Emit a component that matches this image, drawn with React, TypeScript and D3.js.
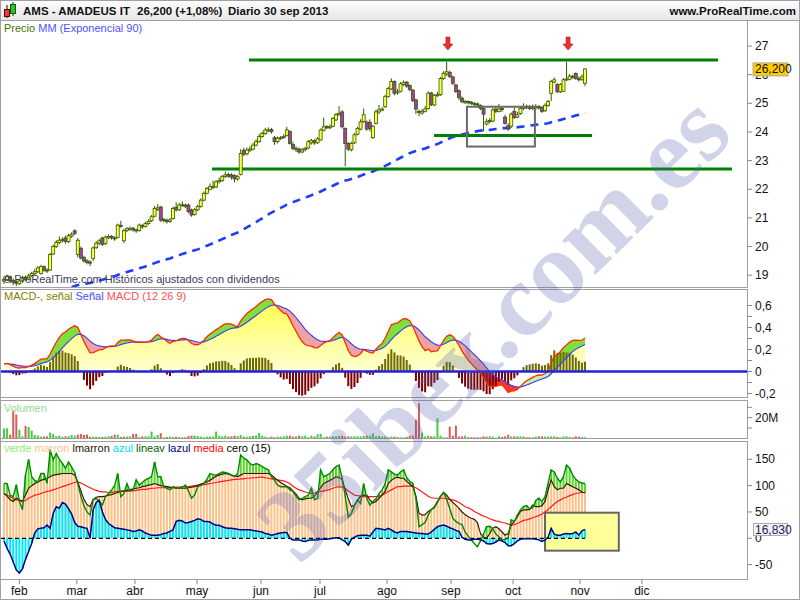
import React from "react";
import * as d3 from "d3";

// ---------- DATA ----------
const opens = [
18.80,18.85,18.95,18.82,18.76,18.70,18.80,18.93,18.86,18.98,
19.05,19.12,19.06,19.30,19.18,19.18,19.74,20.00,20.14,20.22,
20.30,20.18,20.36,20.55,19.72,19.94,19.62,19.50,19.46,19.58,
19.96,20.12,20.30,20.10,20.30,20.36,20.30,20.32,20.74,20.20,
20.56,20.60,20.64,20.58,20.56,20.74,20.70,20.80,20.90,21.06,
21.30,21.38,20.94,20.92,20.88,20.98,21.36,21.28,21.44,21.45,
21.45,21.28,21.12,21.28,21.40,21.62,21.86,22.00,22.06,22.08,
22.26,22.30,22.44,22.52,22.50,22.48,22.36,22.52,23.36,23.24,
23.36,23.40,23.54,23.66,23.84,23.94,24.04,24.08,23.80,23.66,
23.78,23.80,23.88,24.02,23.56,23.42,23.40,23.30,23.38,23.44,
23.62,23.70,23.62,23.72,24.06,24.18,24.16,24.20,24.42,24.60,
24.70,24.12,23.60,23.38,23.62,23.92,24.10,24.36,24.34,24.34,
23.80,24.30,24.70,24.76,24.88,25.24,25.50,25.76,25.36,25.42,
25.66,25.74,25.62,25.46,25.12,24.72,24.66,24.72,24.82,25.36,
24.94,25.28,25.30,25.86,26.02,26.08,25.92,25.64,25.44,25.18,
25.02,25.06,25.04,25.00,24.98,24.92,24.82,24.28,24.36,24.38,
24.80,24.72,24.82,24.52,24.22,24.20,24.72,24.52,24.64,24.82,
24.88,24.86,24.82,24.84,24.88,24.86,24.74,24.92,25.35,25.74,
25.66,25.40,25.42,25.82,25.84,25.94,26.04,25.86,25.84,25.70];
const closes = [
18.85,18.95,18.80,18.75,18.72,18.80,18.92,18.85,18.98,19.06,
19.12,19.25,19.30,19.18,19.15,19.72,20.00,20.15,20.22,20.25,
20.18,20.38,20.42,20.46,20.22,19.60,19.50,19.45,19.42,19.95,
20.12,20.20,20.08,20.33,20.35,20.30,20.28,20.75,20.72,20.55,
20.62,20.64,20.58,20.55,20.75,20.69,20.80,20.88,21.04,21.33,
21.35,20.92,20.93,20.87,20.93,21.33,21.28,21.45,21.46,21.40,
21.22,21.10,21.28,21.40,21.62,21.86,22.03,22.09,22.10,22.26,
22.30,22.44,22.50,22.46,22.42,22.36,22.44,23.25,23.22,23.37,
23.40,23.54,23.66,23.84,23.95,24.07,24.07,24.01,23.66,23.78,
23.80,23.84,24.07,23.60,23.43,23.43,23.30,23.37,23.43,23.66,
23.70,23.62,23.76,24.07,24.18,24.16,24.18,24.47,24.60,24.65,
24.18,23.60,23.40,23.60,23.90,24.12,24.35,24.60,24.10,24.12,
24.20,24.70,24.77,24.80,25.23,25.52,25.76,25.35,25.40,25.68,
25.72,25.60,25.48,25.10,24.80,24.68,24.72,24.80,25.35,24.95,
25.28,25.30,25.87,26.05,26.10,25.93,25.70,25.41,25.20,25.06,
25.06,25.02,25.00,24.96,24.94,24.82,24.62,24.36,24.40,24.77,
24.72,24.80,24.78,24.30,24.12,24.62,24.50,24.60,24.82,24.88,
24.86,24.82,24.86,24.88,24.84,24.72,24.92,25.06,25.76,25.82,
25.40,25.66,25.82,25.85,25.95,25.92,25.86,25.82,25.92,26.20];
const highs = [
18.95,19.02,18.98,18.88,18.82,18.86,18.98,18.98,19.05,19.12,
19.22,19.32,19.36,19.34,19.24,19.78,20.06,20.22,20.35,20.32,
20.38,20.44,20.50,20.60,20.30,20.00,19.68,19.56,19.52,20.00,
20.18,20.26,20.34,20.38,20.42,20.40,20.36,20.80,20.90,20.62,
20.68,20.70,20.68,20.62,20.80,20.78,20.86,20.95,21.10,21.42,
21.48,21.42,21.00,20.98,21.00,21.40,21.55,21.52,21.58,21.50,
21.50,21.32,21.34,21.46,21.68,21.92,22.08,22.20,22.30,22.32,
22.40,22.50,22.62,22.58,22.56,22.52,22.50,23.40,23.45,23.46,
23.50,23.62,23.74,23.92,24.02,24.15,24.16,24.14,23.86,23.84,
23.86,23.92,24.18,24.06,23.66,23.50,23.46,23.44,23.48,23.72,
23.76,23.74,23.82,24.12,24.50,24.24,24.26,24.52,24.66,24.90,
24.76,24.16,23.64,23.66,23.96,24.18,24.44,24.82,24.40,24.44,
24.24,24.78,24.94,24.86,25.30,25.58,25.87,25.80,25.50,25.74,
25.80,25.78,25.66,25.50,25.16,24.78,24.80,24.90,25.42,25.40,
25.32,25.40,25.92,26.12,26.45,26.14,25.96,25.68,25.48,25.24,
25.12,25.10,25.08,25.04,25.02,24.96,24.86,24.46,24.48,24.84,
24.86,24.98,24.90,24.60,24.30,24.68,24.86,24.70,24.88,25.00,
24.96,24.94,24.96,24.98,24.94,24.90,25.00,25.12,25.82,25.90,
25.70,25.70,25.88,26.45,26.02,26.00,26.08,25.94,26.00,26.22];
const lows = [
18.70,18.80,18.72,18.65,18.62,18.66,18.76,18.80,18.82,18.94,
19.00,19.08,19.02,19.12,19.08,19.15,19.70,19.95,20.08,20.15,
20.10,20.12,20.30,20.40,19.62,19.55,19.44,19.38,19.32,19.50,
19.92,20.05,20.02,20.06,20.26,20.24,20.20,20.28,20.66,20.12,
20.50,20.55,20.52,20.48,20.52,20.62,20.66,20.76,20.86,21.02,
21.24,20.86,20.84,20.80,20.82,20.94,21.22,21.24,21.38,21.34,
21.16,21.04,21.08,21.24,21.36,21.58,21.82,21.96,22.00,22.04,
22.20,22.26,22.40,22.40,22.34,22.24,22.30,22.48,23.15,23.18,
23.30,23.36,23.50,23.62,23.80,23.90,24.00,23.94,23.55,23.60,
23.72,23.76,23.84,23.56,23.36,23.30,23.24,23.26,23.32,23.40,
23.56,23.55,23.58,23.70,24.02,24.10,24.10,24.16,24.38,24.56,
24.12,22.80,23.34,23.32,23.58,23.88,24.06,24.32,24.04,24.02,
23.76,24.26,24.62,24.72,24.84,25.20,25.46,25.28,25.30,25.38,
25.60,25.54,25.42,25.04,24.62,24.55,24.60,24.68,24.78,24.90,
24.90,25.22,25.26,25.82,25.96,25.88,25.64,25.36,25.12,25.00,
24.98,24.96,24.94,24.90,24.86,24.76,24.02,24.22,24.30,24.34,
24.66,24.68,24.70,24.26,24.04,24.14,24.46,24.48,24.60,24.76,
24.80,24.76,24.76,24.78,24.78,24.66,24.70,24.88,25.08,25.70,
25.36,25.36,25.40,25.78,25.80,25.86,25.82,25.76,25.78,25.60];
// volume in millions
const volumes = [
9.5,9.7,3.5,27,23,8.4,2,12,11,7.4,
3.2,2.6,1.6,1.6,1.9,5.5,4,2,2.6,1.6,
1.9,1.9,3.2,2.6,3.5,4.2,3.2,3.5,1.6,1.6,
1.6,1.3,1.3,1.6,1.9,2.2,3.5,3.5,1.3,1.6,
1.6,1.9,4.2,4.2,1.3,1.9,1.9,1.9,6.5,1.9,
3.2,5,1,1.3,1.6,1.3,1.6,1.3,1,1,
2.3,2.6,2.6,2.3,1.6,1,1.6,1.6,1.6,6.5,
2.6,1.9,2.6,1.6,1.9,2.6,2.3,3.2,1.6,1.6,
1.9,2.3,2.6,5.2,2.6,1.6,1,1.6,1,1.6,
1.6,1.9,2.6,2.6,1.6,1.9,2.6,1.9,2.6,1,
2.6,1.6,3.9,4.2,1,1.6,1.6,1.9,1.9,2.3,
2.6,1.6,1.9,1.9,1.9,1.9,1.9,2.6,2.6,2.6,
4.8,1.9,2.3,1.6,1.9,1,1.6,1.6,1.3,1,
1,1.3,2.6,2.6,18,34,5.5,1.9,2.6,1.9,
1.9,19.4,2.6,1,1,11.3,2.6,12.3,1.6,1.9,
2.6,1,1,1,1,1,1.9,1.6,1.9,1.6,
0.5,1.9,1.3,1.9,3.5,1.9,1.9,1.9,1.9,1.9,
1,1,1,1.6,1.9,1.9,1.6,1.6,1.9,1.9,
1.3,1,1.9,1.9,1.3,1,1.9,1.6,1.3,1];
const verde = [
104,104,82,79,102,70,54,120,150,117,
110,107,123,123,104,168,149,161,150,142,
133,145,135,125,104,80,62,50,44,73,
76,70,63,79,85,92,100,123,79,85,
104,90,92,111,101,106,111,114,117,145,
117,117,98,95,92,98,96,95,97,101,
90,76,82,98,100,104,112,123,121,120,
123,126,125,123,120,117,123,158,152,149,
142,139,142,140,136,133,130,117,110,101,
98,98,98,92,89,79,73,76,79,82,
95,73,76,130,117,120,123,130,136,139,
114,80,40,47,62,73,66,104,76,63,
70,75,85,92,104,130,126,122,120,126,
130,115,108,104,76,22,26,30,44,55,
58,68,80,87,74,56,38,32,28,26,
12,4,-3,-10,-16,-5,8,22,23,18,
8,3,-3,-2,0,35,32,44,54,60,
62,56,58,72,76,70,79,104,130,126,
114,107,117,139,133,120,112,107,105,104];
const lmarron = [
85,80,73,70,76,73,70,82,95,100,
104,107,110,112,114,117,120,121,122,123,
123,123,123,120,107,90,74,64,60,74,
78,79,79,80,82,83,85,87,89,90,
91,92,94,95,96,98,99,101,102,104,
102,100,99,98,97,96,95,95,95,95,
96,97,98,100,103,105,107,110,114,118,
120,122,123,122,120,118,117,120,123,123,
123,123,123,123,123,123,123,120,115,110,
106,102,99,96,90,84,76,73,75,76,
76,80,88,96,104,107,110,113,117,115,
112,92,75,60,63,72,80,82,82,73,
67,70,76,82,89,104,110,114,116,114,
114,108,103,98,80,48,44,45,51,54,
60,70,79,87,82,74,68,63,57,50,
45,41,38,36,30,9,2,0,9,19,
22,18,12,6,9,25,32,41,51,54,
54,55,63,60,60,62,70,92,111,98,
92,95,95,104,101,98,95,92,88,86];
const lazul = [
-5,-19,-30,-45,-60,-66,-58,-40,-25,-10,
10,18,19,20,25,19,47,60,57,68,
65,56,46,30,23,22,20,19,0,54,
68,72,50,36,28,24,20,19,18,17,
16,15,13,14,16,14,10,8,6,6,
6,7,9,10,13,16,32,34,33,29,
30,32,34,37,36,32,32,31,27,25,
25,22,20,19,19,18,17,16,16,16,
16,15,14,13,12,9,8,6,7,9,
10,11,11,0,-3,-3,-3,-5,-6,-4,
-3,-3,-3,-2,-2,-2,-1,0,1,1,
-3,-6,-13,-2,2,5,6,6,6,4,
12,19,18,17,16,19,16,12,10,13,
13,13,12,11,10,9,9,8,8,12,
17,22,24,25,23,20,18,15,13,2,
-2,-3,-3,-2,-2,-3,-5,-10,-11,-10,
-7,-3,-5,-8,-14,-14,-10,-5,-2,-1,
-1,-1,-1,-2,-3,-6,-3,2,19,8,
6,6,8,9,8,9,12,6,14,16.83];
const media = [
85,82,79,76,73,72,70,72,76,79,
82,83,85,87,89,90,92,94,96,98,
100,102,104,106,107,105,102,99,96,93,
91,89,88,88,87,87,88,89,89,89,
89,90,90,91,92,93,93,94,95,95,
96,96,96,96,96,96,97,97,98,98,
98,99,100,101,102,102,103,104,105,106,
107,108,109,110,111,112,112,113,113,114,
114,115,115,116,116,115,114,113,112,111,
110,109,107,104,99,95,92,90,88,86,
85,86,88,89,90,91,93,95,97,98,
97,95,90,86,82,81,80,79,79,79,
79,79,80,82,85,89,92,95,98,98,
99,99,99,98,96,92,88,84,80,77,
76,76,76,76,75,74,73,71,68,64,
60,58,55,51,48,45,42,40,37,35,
33,32,30,29,27,25,26,28,31,34,
35,37,39,41,43,46,50,55,60,65,
70,73,76,78,81,83,85,86,87,87];

const ema90Seed = 18.0;   // EMA value where the dashed line enters the chart
const macdSeed = 0.07;    // MACD / signal value at the first bar
const monthLabels = ["feb","mar","abr","may","jun","jul","ago","sep","oct","nov","dic"];
const monthTickIdx = [5, 23.7, 42.6, 62.8, 83.6, 102.8, 124.6, 145.4, 165.6, 187.4, 207.5];
const priceTicks = [19,20,21,22,23,24,25,26,27];
const macdTicks = [-0.2,-0.1,0,0.1,0.2,0.3,0.4,0.5,0.6];
const macdLabels = [-0.2,0,0.2,0.4,0.6];
const volTicks = [10,20,30];
const oscTicks = [-50,0,50,100,150];
// horizontal support / resistance lines: [price, fromIdx, toIdx]
const hLines = [[26.51,79.7,232.3],[22.71,67.7,236.8],[23.88,139.9,191.3]];
const boxPrice = { i0: 150.6, i1: 172.7, p0: 23.49, p1: 24.88 };
const boxOsc = { i0: 176, i1: 200, v0: -23.5, v1: 48.6 };
const arrowIdx = [144.4, 183.5];

function emaSeries(values: number[], period: number, seed: number) {
  const a = 2 / (period + 1);
  let e = seed;
  return values.map((v, i) => { if (i > 0) e = e + a * (v - e); return e; });
}

const fmt = (v: number, d: number) => v.toFixed(d).replace(".", ",");

export default function App() {
  const n = closes.length;
  const idx = d3.range(n);
  const x = d3.scaleLinear().domain([0, n - 1]).range([4, 585]);
  const yP = d3.scaleLinear().domain([19, 27]).range([275.2, 46]);
  const yM = d3.scaleLinear().domain([0, 0.6]).range([371.5, 305.5]);
  const yV = d3.scaleLinear().domain([0, 30]).range([438.3, 407.3]);
  const yO = d3.scaleLinear().domain([0, 150]).range([538.3, 459.3]);

  const ema90 = emaSeries(closes, 90, ema90Seed);
  const e12 = emaSeries(closes, 12, closes[0]);
  const e26 = emaSeries(closes, 26, closes[0] - macdSeed);
  const macd = e12.map((v, i) => v - e26[i]);
  const signal = emaSeries(macd, 9, macdSeed);
  const hist = macd.map((v, i) => 1.5 * (v - signal[i]));

  const emaPath = d3.line<number>().x(i => x(i)).y(i => yP(ema90[i]))(idx) || "";
  const macdPath = d3.line<number>().x(i => x(i)).y(i => yM(macd[i]))(idx) || "";
  const sigPath = d3.line<number>().x(i => x(i)).y(i => yM(signal[i]))(idx) || "";
  const yellowArea = d3.area<number>().x(i => x(i)).y0(yM(0))
    .y1(i => yM(Math.max(0, Math.min(macd[i], signal[i]))))(idx) || "";
  const upArea = d3.area<number>().x(i => x(i)).y0(i => yM(signal[i]))
    .y1(i => yM(Math.max(macd[i], signal[i])))(idx) || "";
  const dnArea = d3.area<number>().x(i => x(i)).y0(i => yM(signal[i]))
    .y1(i => yM(Math.min(macd[i], signal[i])))(idx) || "";

  const oLine = (arr: number[]) => d3.line<number>().x(i => x(i)).y(i => yO(arr[i]))(idx) || "";

  const font = "Liberation Sans, Arial, sans-serif";
  const frame = "#a0a0a0";

  return (
    <svg width={800} height={600} style={{ position: "absolute", left: 0, top: 0, background: "#fff" }}
      fontFamily={font}>
      <defs>
        <clipPath id="cP"><rect x={1} y={21} width={746} height={266} /></clipPath>
        <clipPath id="cM"><rect x={1} y={289.5} width={746} height={107.5} /></clipPath>
        <clipPath id="cMup"><rect x={1} y={289.5} width={746} height={yM(0) - 289.5} /></clipPath>
        <clipPath id="cMdn"><rect x={1} y={yM(0)} width={746} height={397 - yM(0)} /></clipPath>
        <clipPath id="cO"><rect x={1} y={441} width={746} height={138} /></clipPath>
        <clipPath id="cAll"><rect x={1} y={21} width={746} height={558} /></clipPath>
        <linearGradient id="gY" gradientUnits="userSpaceOnUse" x1={0} y1={300} x2={0} y2={372}>
          <stop offset="0" stopColor="#ffff50" />
          <stop offset="1" stopColor="#ffffd4" />
        </linearGradient>
        <linearGradient id="gH" x1={0} y1={0} x2={0} y2={1}>
          <stop offset="0" stopColor="#fdfdfd" />
          <stop offset="1" stopColor="#e6e6e6" />
        </linearGradient>
      </defs>

      {/* header */}
      <rect x={0.5} y={0.5} width={799} height={20} fill="url(#gH)" stroke={frame} />
      <g>
        <line x1={7} x2={7} y1={5} y2={18} stroke="#400" strokeWidth={1} />
        <rect x={4.5} y={9.5} width={5} height={7} fill="#e04040" stroke="#600" />
        <line x1={13} x2={13} y1={2} y2={16} stroke="#040" strokeWidth={1} />
        <rect x={10.5} y={4.5} width={5} height={9} fill="#30c030" stroke="#060" />
      </g>
      <text x={23} y={15} fontSize={11.5} fontWeight="bold" fill="#111">AMS - AMADEUS IT</text>
      <text x={137} y={15} fontSize={11.5} fontWeight="bold" fill="#111">26,200 (+1,08%)</text>
      <text x={228} y={15} fontSize={11.5} fontWeight="bold" fill="#111">Diario  30 sep 2013</text>
      <text x={796} y={15} fontSize={11.5} fontWeight="bold" fill="#111" textAnchor="end">www.ProRealTime.com</text>

      {/* panels */}
      <rect x={0.5} y={20.5} width={747} height={267} fill="#fff" stroke={frame} />
      <rect x={0.5} y={289.5} width={747} height={108} fill="#fff" stroke={frame} />
      <rect x={0.5} y={400.5} width={747} height={38} fill="#fff" stroke={frame} />
      <rect x={0.5} y={441.5} width={747} height={138} fill="#fff" stroke={frame} />
      <rect x={0.5} y={0.5} width={799} height={599} fill="none" stroke={frame} />

      {/* ---------- price panel ---------- */}
      <g clipPath="url(#cP)">
        <path d={emaPath} fill="none" stroke="#1f3cff" strokeWidth={2.6} strokeDasharray="8,6" />
        {hLines.map((h, k) => (
          <line key={k} x1={x(h[1])} x2={x(h[2])} y1={yP(h[0])} y2={yP(h[0])} stroke="#008000" strokeWidth={3} />
        ))}
        {idx.map(i => {
          const up = closes[i] >= opens[i];
          const top = yP(Math.max(opens[i], closes[i]));
          const bot = yP(Math.min(opens[i], closes[i]));
          return (
            <g key={i}>
              <line x1={x(i)} x2={x(i)} y1={yP(highs[i])} y2={yP(lows[i])} stroke="#2e5a00" strokeWidth={1} />
              <rect x={x(i) - 1.5} y={top} width={3} height={Math.max(1, bot - top)}
                fill={up ? "#ffff3a" : "#a83ca8"} stroke="#2e5a00" strokeWidth={0.8} />
            </g>
          );
        })}
        <rect x={x(boxPrice.i0)} y={yP(boxPrice.p1)} width={x(boxPrice.i1) - x(boxPrice.i0)}
          height={yP(boxPrice.p0) - yP(boxPrice.p1)} fill="none" stroke="#6a6a6a" strokeWidth={2} />
        {arrowIdx.map((a, k) => {
          const cx = x(a), ty = yP(26.86);
          return (
            <path key={k} d={`M${cx - 2},${ty - 13} L${cx + 2},${ty - 13} L${cx + 2},${ty - 6} L${cx + 5},${ty - 6} L${cx},${ty} L${cx - 5},${ty - 6} L${cx - 2},${ty - 6} Z`}
              fill="#e83030" stroke="#b01818" strokeWidth={0.6} />
          );
        })}
      </g>
      <text x={4} y={32} fontSize={11}>
        <tspan fill="#4f7000">Precio </tspan><tspan fill="#5050ff">MM (Exponencial 90)</tspan>
      </text>
      <text x={3} y={283} fontSize={11} fill="#3c3c5a">© ProRealTime.com Históricos ajustados con dividendos</text>

      {/* ---------- MACD panel ---------- */}
      <g clipPath="url(#cM)">
        <path d={yellowArea} fill="url(#gY)" />
        <g clipPath="url(#cMup)">
          <path d={upArea} fill="#7fe03c" />
          <path d={dnArea} fill="#eba3a3" />
        </g>
        <g clipPath="url(#cMdn)">
          <path d={upArea} fill="#c4f2a8" />
          <path d={dnArea} fill="#f23a2a" />
        </g>
        {idx.map(i => (
          <rect key={i} x={x(i) - 1} width={2}
            y={Math.min(yM(0), yM(hist[i]))} height={Math.abs(yM(hist[i]) - yM(0))}
            fill={hist[i] >= 0 ? "#6e6a00" : "#7a0000"} />
        ))}
        <path d={sigPath} fill="none" stroke="#3a3aff" strokeWidth={1.1} />
        <path d={macdPath} fill="none" stroke="#ff2a00" strokeWidth={1.3} />
        <line x1={1} x2={747} y1={yM(0)} y2={yM(0)} stroke="#2222dd" strokeWidth={2.5} />
      </g>
      <text x={4} y={300} fontSize={11}>
        <tspan fill="#808000">MACD-, señal </tspan><tspan fill="#4848ff">Señal </tspan><tspan fill="#ff5050">MACD (12 26 9)</tspan>
      </text>

      {/* ---------- volume panel ---------- */}
      {idx.map(i => {
        const up = i === 0 ? closes[0] >= opens[0] : closes[i] >= closes[i - 1];
        return (
          <rect key={i} x={x(i) - 1} width={2} y={yV(volumes[i])} height={yV(0) - yV(volumes[i])}
            fill={up ? "#44cc44" : "#dd5a5a"} />
        );
      })}
      <text x={4} y={412} fontSize={11} fill="#8ee08e">Volumen</text>

      {/* ---------- oscillator panel ---------- */}
      <g clipPath="url(#cO)">
        {idx.map(i => (
          <rect key={"m" + i} x={x(i) - 1} width={2} y={yO(lmarron[i])} height={yO(0) - yO(lmarron[i])} fill="#ffc088" />
        ))}
        {idx.map(i => verde[i] > lmarron[i] ? (
          <rect key={"v" + i} x={x(i) - 1} width={2} y={yO(verde[i])} height={yO(lmarron[i]) - yO(verde[i])} fill="#5ad82a" />
        ) : null)}
        <rect x={x(boxOsc.i0)} y={yO(boxOsc.v1)} width={x(boxOsc.i1) - x(boxOsc.i0)}
          height={yO(boxOsc.v0) - yO(boxOsc.v1)} fill="#ffff99" stroke="#666" strokeWidth={2} />
        {idx.map(i => (
          <rect key={"a" + i} x={x(i) - 1} width={2} y={Math.min(yO(0), yO(lazul[i]))}
            height={Math.abs(yO(0) - yO(lazul[i]))} fill="#00e8ff" />
        ))}
        <line x1={1} x2={585} y1={yO(0)} y2={yO(0)} stroke="#000" strokeWidth={1.3} strokeDasharray="4,3" />
        <path d={oLine(media)} fill="none" stroke="#ff1a1a" strokeWidth={1.2} />
        <path d={oLine(lmarron)} fill="none" stroke="#3a1800" strokeWidth={1.2} />
        <path d={oLine(verde)} fill="none" stroke="#008a00" strokeWidth={1.4} />
        <path d={oLine(lazul)} fill="none" stroke="#000080" strokeWidth={1.5} />
      </g>
      <text x={4} y={452} fontSize={11}>
        <tspan fill="#90ee70">verde </tspan><tspan fill="#ffc090">marron </tspan><tspan fill="#301000">lmarron </tspan>
        <tspan fill="#00e0ff">azul </tspan><tspan fill="#006000">lineav </tspan><tspan fill="#000080">lazul </tspan>
        <tspan fill="#ff0000">media </tspan><tspan fill="#000">cero (15)</tspan>
      </text>

      {/* ---------- right axes ---------- */}
      <g fontSize={12} fill="#111">
        {priceTicks.map(t => (
          <g key={"p" + t}>
            <line x1={747} x2={752} y1={yP(t)} y2={yP(t)} stroke="#888" />
            <text x={755} y={yP(t) + 4}>{t}</text>
          </g>
        ))}
        {macdTicks.map(t => (
          <line key={"mt" + t} x1={747} x2={752} y1={yM(t)} y2={yM(t)} stroke="#888" />
        ))}
        {macdLabels.map(t => (
          <text key={"ml" + t} x={755} y={yM(t) + 4}>{t === 0 ? "0" : fmt(t, 1)}</text>
        ))}
        {volTicks.map(t => (
          <line key={"vt" + t} x1={747} x2={752} y1={yV(t)} y2={yV(t)} stroke="#888" />
        ))}
        <text x={755} y={yV(20) + 4}>20M</text>
        {oscTicks.map(t => (
          <g key={"o" + t}>
            <line x1={747} x2={752} y1={yO(t)} y2={yO(t)} stroke="#888" />
            <text x={755} y={yO(t) + 4}>{t}</text>
          </g>
        ))}
      </g>
      <rect x={753} y={yP(closes[n - 1]) - 6} width={35} height={13} fill="#ffcc00" stroke="#aaa" />
      <text x={755} y={yP(closes[n - 1]) + 4.5} fontSize={12} fill="#111">{fmt(closes[n - 1], 3)}</text>
      <rect x={753.5} y={yO(lazul[n - 1]) - 6} width={34} height={12} fill="#f2f2f2" stroke="#aaa" />
      <text x={755} y={yO(lazul[n - 1]) + 4.5} fontSize={12} fill="#202060">{fmt(lazul[n - 1], 3)}</text>

      {/* ---------- x axis ---------- */}
      {monthLabels.map((m, k) => (
        <g key={m}>
          <line x1={x(monthTickIdx[k])} x2={x(monthTickIdx[k])} y1={579} y2={584} stroke="#888" />
          <text x={x(monthTickIdx[k])} y={595} fontSize={12} textAnchor="middle" fill="#111">{m}</text>
        </g>
      ))}

      {/* watermark */}
      <g clipPath="url(#cAll)">
        <text x={0} y={36} fontSize={104} fontWeight="bold" fontFamily="Liberation Serif, serif"
          textAnchor="middle" fill="#5a64b0" opacity={0.27}
          transform="translate(492 326) rotate(-44.5)">35ibex.com.es</text>
      </g>
    </svg>
  );
}
